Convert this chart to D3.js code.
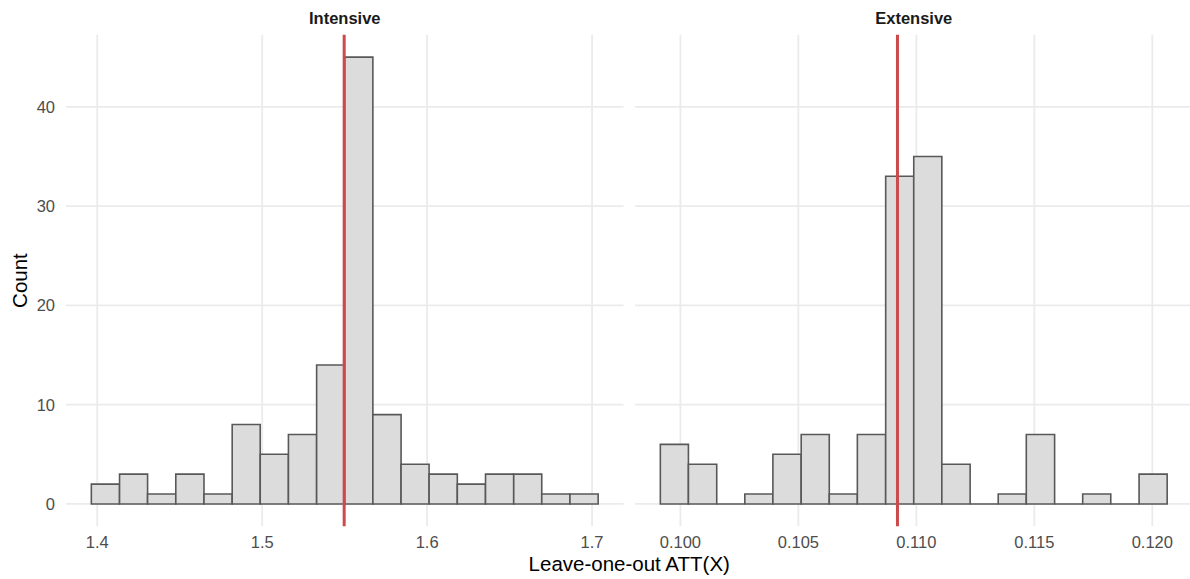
<!DOCTYPE html>
<html>
<head>
<meta charset="utf-8">
<script src="https://cdn.jsdelivr.net/npm/d3@7.9.0/dist/d3.min.js"></script>
<style>
  body { margin: 0; background: #fff; }
  svg { display: block; font-family: "Liberation Sans", Arial, sans-serif; }
</style>
</head>
<body>
<svg id="chart" width="1190" height="579"></svg>
<script>
// histogram bin edges and counts
const intensiveBreaks = [1.3964, 1.4135, 1.4305, 1.4476, 1.4647, 1.4818, 1.4988, 1.5159, 1.5330,
  1.5500, 1.5671, 1.5842, 1.6012, 1.6183, 1.6354, 1.6525, 1.6695, 1.6866, 1.7037];
const intensiveCounts = [2, 3, 1, 3, 1, 8, 5, 7, 14, 45, 9, 4, 3, 2, 3, 3, 1, 1];
const intensiveTicks = [1.4, 1.5, 1.6, 1.7];
const intensiveRef = 1.5497;

const extensiveBreaks = [0.09915, 0.10034, 0.10154, 0.10273, 0.10392, 0.10512, 0.10631, 0.10750,
  0.10870, 0.10989, 0.11108, 0.11228, 0.11347, 0.11466, 0.11586, 0.11705, 0.11824, 0.11944, 0.12063];
const extensiveCounts = [6, 4, 0, 1, 5, 7, 1, 7, 33, 35, 4, 0, 1, 7, 0, 1, 0, 3];
const extensiveTicks = [0.100, 0.105, 0.110, 0.115, 0.120];
const extensiveRef = 0.1092;

const yTicks = [0, 10, 20, 30, 40];

const panels = [
  { title: 'Intensive', breaks: intensiveBreaks, counts: intensiveCounts, ticks: intensiveTicks, ref: intensiveRef, fmt: d3.format('.1f'), x0: 66 },
  { title: 'Extensive', breaks: extensiveBreaks, counts: extensiveCounts, ticks: extensiveTicks, ref: extensiveRef, fmt: d3.format('.3f'), x0: 635 }
];

const panelW = 557.5;
const panelTop = 34.8, panelBottom = 526.3;
const svg = d3.select('#chart');

// shared y scale, ggplot style 5% expansion around 0..max
const yMax = d3.max([...intensiveCounts, ...extensiveCounts]);
const y = d3.scaleLinear().domain([-0.05 * yMax, yMax * 1.05]).range([panelBottom, panelTop]);

panels.forEach((p, pi) => {
  const lo = p.breaks[0], hi = p.breaks[p.breaks.length - 1];
  const pad = (hi - lo) * 0.05;
  const x = d3.scaleLinear().domain([lo - pad, hi + pad]).range([p.x0, p.x0 + panelW]);
  const g = svg.append('g');

  // grid
  g.selectAll('.gy').data(yTicks).join('line')
    .attr('x1', p.x0).attr('x2', p.x0 + panelW)
    .attr('y1', d => y(d)).attr('y2', d => y(d))
    .attr('stroke', '#ebebeb').attr('stroke-width', 1.8);
  g.selectAll('.gx').data(p.ticks).join('line')
    .attr('x1', d => x(d)).attr('x2', d => x(d))
    .attr('y1', panelTop).attr('y2', panelBottom)
    .attr('stroke', '#ebebeb').attr('stroke-width', 1.8);

  // bars (as paths so empty bins still show as a flat line)
  g.selectAll('path.bar').data(p.counts).join('path')
    .attr('class', 'bar')
    .attr('d', (c, i) => {
      const a = x(p.breaks[i]), b = x(p.breaks[i + 1]);
      return `M${a},${y(0)}V${y(c)}H${b}V${y(0)}Z`;
    })
    .attr('fill', '#dcdcdc')
    .attr('stroke', '#585858')
    .attr('stroke-width', 1.6)
    .attr('stroke-linejoin', 'miter');

  // reference line
  g.append('line')
    .attr('x1', x(p.ref)).attr('x2', x(p.ref))
    .attr('y1', panelTop).attr('y2', panelBottom)
    .attr('stroke', '#cd4a4a').attr('stroke-width', 3);

  // x tick labels
  g.selectAll('text.xt').data(p.ticks).join('text')
    .attr('x', d => x(d)).attr('y', 548)
    .attr('text-anchor', 'middle')
    .attr('font-size', 16.5).attr('fill', '#4d4d4d')
    .text(d => p.fmt(d));

  // strip title
  g.append('text')
    .attr('x', p.x0 + panelW / 2).attr('y', 24)
    .attr('text-anchor', 'middle')
    .attr('font-size', 16.5).attr('font-weight', 'bold').attr('fill', '#1a1a1a')
    .text(p.title);

  // y tick labels only on first panel
  if (pi === 0) {
    g.selectAll('text.yt').data(yTicks).join('text')
      .attr('x', 55).attr('y', d => y(d)).attr('dy', '0.36em')
      .attr('text-anchor', 'end')
      .attr('font-size', 16.5).attr('fill', '#4d4d4d')
      .text(d => d);
  }
});

// axis titles
svg.append('text')
  .attr('x', (66 + 635 + panelW) / 2).attr('y', 571)
  .attr('text-anchor', 'middle')
  .attr('font-size', 20.5).attr('fill', '#000')
  .text('Leave-one-out ATT(X)');

svg.append('text')
  .attr('transform', `translate(27,${(panelTop + panelBottom) / 2}) rotate(-90)`)
  .attr('text-anchor', 'middle')
  .attr('font-size', 20.5).attr('fill', '#000')
  .text('Count');
</script>
</body>
</html>
